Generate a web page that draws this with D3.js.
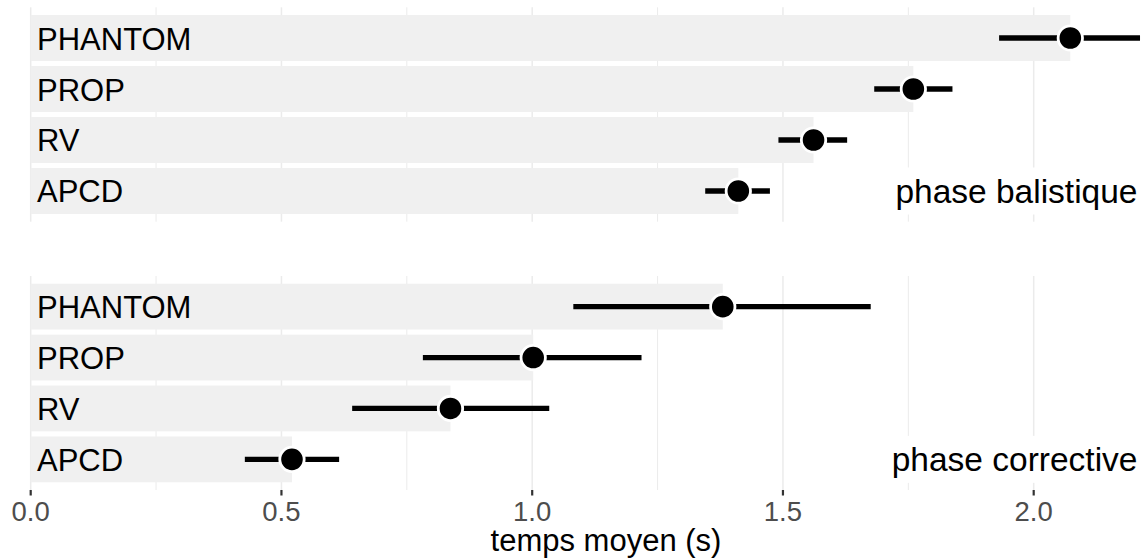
<!DOCTYPE html>
<html>
<head>
<meta charset="utf-8">
<script src="https://cdn.jsdelivr.net/npm/d3@7"></script>
<style>
  html, body { margin: 0; padding: 0; background: #ffffff; }
  svg { display: block; font-family: "Liberation Sans", Arial, Helvetica, sans-serif; }
</style>
</head>
<body>
<svg id="chart" width="1144" height="560"></svg>
<script>
const categories = ["PHANTOM", "PROP", "RV", "APCD"];
const phases = ["phase balistique", "phase corrective"];
const balMean = [2.073, 1.760, 1.561, 1.411];
const balLow  = [1.931, 1.682, 1.491, 1.345];
const balHigh = [2.212, 1.838, 1.628, 1.474];
const corMean = [1.380, 1.002, 0.837, 0.521];
const corLow  = [1.082, 0.782, 0.641, 0.427];
const corHigh = [1.675, 1.218, 1.034, 0.615];
const majorTicks = [0, 0.5, 1.0, 1.5, 2.0];
const minorTicks = [0.25, 0.75, 1.25, 1.75];
const tickLabels = ["0.0", "0.5", "1.0", "1.5", "2.0"];
const xTitle = "temps moyen (s)";

const panelsData = [
  { label: phases[0], mean: balMean, low: balLow, high: balHigh, y0: 7.3, y1: 221.7 },
  { label: phases[1], mean: corMean, low: corLow, high: corHigh, y0: 276, y1: 490 }
];

const svg = d3.select("#chart");
const x = d3.scaleLinear().domain([0, 2.2]).range([30.7, 30.7 + 2.2 * 501.5]);

panelsData.forEach(p => {
  const y = d3.scaleBand().domain(categories).range([p.y0, p.y1])
    .paddingInner(0.1).paddingOuter(0.152);
  const g = svg.append("g");
  g.selectAll(".minor").data(minorTicks).join("line")
    .attr("x1", d => x(d)).attr("x2", d => x(d))
    .attr("y1", p.y0).attr("y2", p.y1)
    .attr("stroke", "#EBEBEB").attr("stroke-width", 1);
  g.selectAll(".major").data(majorTicks).join("line")
    .attr("x1", d => x(d)).attr("x2", d => x(d))
    .attr("y1", p.y0).attr("y2", p.y1)
    .attr("stroke", "#EBEBEB").attr("stroke-width", 1.5);
  const rows = categories.map((c, i) => ({ c, m: p.mean[i], lo: p.low[i], hi: p.high[i] }));
  g.selectAll(".bar").data(rows).join("rect")
    .attr("x", x(0)).attr("y", d => y(d.c))
    .attr("width", d => x(d.m) - x(0)).attr("height", y.bandwidth())
    .attr("fill", "#F0F0F0");
  g.selectAll(".cat").data(rows).join("text")
    .attr("x", 37).attr("y", d => y(d.c) + y.bandwidth() / 2 + 11.5)
    .attr("font-size", 31).attr("fill", "#000")
    .text(d => d.c);
  g.selectAll(".err").data(rows).join("line")
    .attr("x1", d => x(d.lo)).attr("x2", d => x(d.hi))
    .attr("y1", d => y(d.c) + y.bandwidth() / 2).attr("y2", d => y(d.c) + y.bandwidth() / 2)
    .attr("stroke", "#000").attr("stroke-width", 5.3);
  g.selectAll(".pt").data(rows).join("circle")
    .attr("cx", d => x(d.m)).attr("cy", d => y(d.c) + y.bandwidth() / 2)
    .attr("r", 12.2).attr("fill", "#000")
    .attr("stroke", "#fff").attr("stroke-width", 2.8);
  const cy = y(categories[3]) + y.bandwidth() / 2;
  const lbl = g.append("text")
    .attr("x", 1137.5).attr("y", cy + 12)
    .attr("text-anchor", "end").attr("font-size", 33.5).attr("fill", "#000")
    .text(p.label);
  const bb = lbl.node().getBBox();
  g.insert("rect", function() { return lbl.node(); })
    .attr("x", bb.x - 8).attr("y", cy - 23.5)
    .attr("width", bb.width + 14).attr("height", 47)
    .attr("fill", "#fff");
});

const axis = svg.append("g");
axis.selectAll(".tk").data(majorTicks).join("line")
  .attr("x1", d => x(d)).attr("x2", d => x(d))
  .attr("y1", 490).attr("y2", 495.5)
  .attr("stroke", "#333").attr("stroke-width", 2.2);
axis.selectAll(".tl").data(majorTicks).join("text")
  .attr("x", d => x(d)).attr("y", 521)
  .attr("text-anchor", "middle").attr("font-size", 27.5).attr("fill", "#4D4D4D")
  .text((d, i) => tickLabels[i]);
svg.append("text")
  .attr("x", 606).attr("y", 550.5)
  .attr("text-anchor", "middle").attr("font-size", 31).attr("fill", "#000")
  .text(xTitle);
</script>
</body>
</html>
